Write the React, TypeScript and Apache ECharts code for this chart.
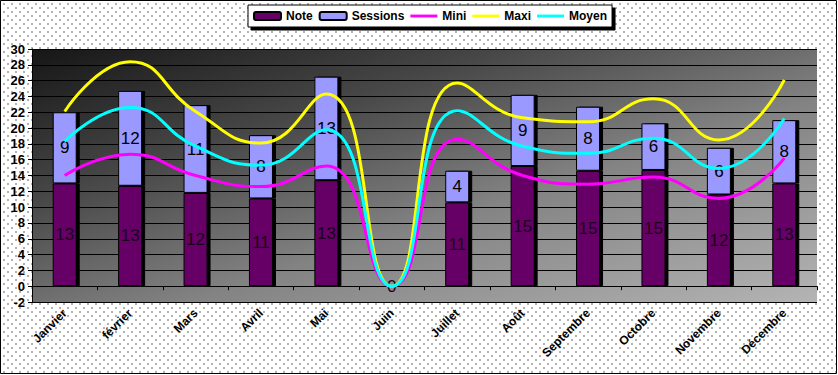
import React, { useEffect, useRef } from "react";
import * as echarts from "echarts";

const categories = ["Janvier", "février", "Mars", "Avril", "Mai", "Juin", "Juillet", "Août", "Septembre", "Octobre", "Novembre", "Décembre"];
const noteValues = [13.0, 12.7, 11.8, 11.1, 13.4, 0, 10.6, 15.2, 14.6, 14.7, 11.6, 13.0];
const sessionValues = [9.0, 12.0, 11.1, 8.0, 13.1, 0, 4.0, 9.0, 8.1, 5.9, 5.9, 8.0];
const miniValues = [14.0, 16.7, 14.0, 12.6, 15.2, 0, 18.6, 14.0, 12.9, 13.8, 11.1, 16.2];
const maxiValues = [22.1, 28.4, 22.1, 18.1, 24.3, 0, 25.7, 21.3, 20.8, 23.7, 18.5, 26.1];
const moyenValues = [18.3, 22.6, 17.7, 15.3, 19.8, 0, 22.2, 17.7, 16.8, 18.7, 14.9, 21.2];

const FONT = "'Liberation Sans', Arial, sans-serif";
const NARROW = "'Liberation Sans Narrow', 'Arial Narrow', 'Liberation Sans', Arial, sans-serif";
const LINE_ICON = "path://M0 0H30V3.2H0Z";

export default function App() {
  const ref = useRef<HTMLDivElement>(null);
  useEffect(() => {
    if (!ref.current) return;
    const chart = echarts.init(ref.current, undefined, { renderer: "svg" });
    const barLabel = (color: string, hideZero: boolean) => ({
      show: true,
      position: "inside",
      fontFamily: NARROW,
      fontSize: 17,
      color,
      formatter: (p: any) => (hideZero && p.value === 0 ? "" : String(Math.round(p.value))),
    });
    const barStyle = (color: string) => ({
      color,
      borderColor: "#000",
      borderWidth: 1,
      shadowColor: "#000",
      shadowOffsetX: 3,
      shadowOffsetY: 0,
      shadowBlur: 0,
    });
    chart.setOption({
      animation: false,
      backgroundColor: "transparent",
      textStyle: { fontFamily: FONT },
      grid: {
        left: 32,
        right: 21,
        top: 49,
        bottom: 73,
        show: true,
        borderWidth: 0,
        backgroundColor: new echarts.graphic.LinearGradient(0, 0, 1, 1, [
          { offset: 0, color: "#161616" },
          { offset: 0.3, color: "#474747" },
          { offset: 0.6, color: "#838383" },
          { offset: 1, color: "#b4b4b4" },
        ]),
      },
      legend: {
        left: 248,
        top: 5,
        padding: [5, 5, 5, 5],
        itemGap: 6,
        itemWidth: 27,
        itemHeight: 8,
        backgroundColor: "#ffffff",
        borderColor: "#000",
        borderWidth: 1,
        shadowColor: "#000",
        shadowOffsetX: 3,
        shadowOffsetY: 3,
        shadowBlur: 0,
        textStyle: { fontFamily: FONT, fontSize: 12, fontWeight: "bold", color: "#000" },
        data: [
          { name: "Note" },
          { name: "Sessions" },
          { name: "Mini", icon: LINE_ICON },
          { name: "Maxi", icon: LINE_ICON },
          { name: "Moyen", icon: LINE_ICON },
        ],
      },
      xAxis: {
        type: "category",
        data: categories,
        axisLine: { onZero: true, lineStyle: { color: "#000", width: 1 } },
        axisTick: { show: true, length: 4, lineStyle: { color: "#000" } },
        axisLabel: {
          rotate: 45,
          interval: 0,
          margin: 9,
          fontFamily: FONT,
          fontSize: 12,
          fontWeight: "bold",
          color: "#000",
        },
      },
      yAxis: {
        type: "value",
        min: -2,
        max: 30,
        interval: 2,
        axisLine: { show: true, lineStyle: { color: "#000" } },
        axisTick: { show: true, length: 4, lineStyle: { color: "#000" } },
        splitLine: { show: true, lineStyle: { color: "#000", width: 1 } },
        axisLabel: { margin: 7, fontFamily: FONT, fontSize: 13, fontWeight: "bold", color: "#000" },
      },
      series: [
        {
          name: "Note",
          type: "bar",
          stack: "total",
          barWidth: 24,
          data: noteValues,
          itemStyle: barStyle("#660066"),
          label: barLabel("#1a001a", false),
        },
        {
          name: "Sessions",
          type: "bar",
          stack: "total",
          barWidth: 24,
          data: sessionValues,
          itemStyle: barStyle("#9999ff"),
          label: barLabel("#000", true),
        },
        {
          name: "Mini",
          type: "line",
          smooth: true,
          symbol: "none",
          data: miniValues,
          z: 5,
          color: "#ff00ff",
          itemStyle: { color: "#ff00ff" },
          lineStyle: { color: "#ff00ff", width: 3 },
        },
        {
          name: "Maxi",
          type: "line",
          smooth: true,
          symbol: "none",
          data: maxiValues,
          z: 5,
          color: "#ffff00",
          itemStyle: { color: "#ffff00" },
          lineStyle: { color: "#ffff00", width: 3 },
        },
        {
          name: "Moyen",
          type: "line",
          smooth: true,
          symbol: "none",
          data: moyenValues,
          z: 5,
          color: "#00ffff",
          itemStyle: { color: "#00ffff" },
          lineStyle: { color: "#00ffff", width: 3 },
        },
      ],
      graphic: [
        {
          type: "rect",
          shape: { x: 0.5, y: 0.5, width: 836, height: 373 },
          style: { fill: "none", stroke: "#000", lineWidth: 1 },
          silent: true,
        },
      ],
    });
    return () => chart.dispose();
  }, []);
  return (
    <div
      ref={ref}
      style={{
        position: "fixed",
        left: 0,
        top: 0,
        width: 838,
        height: 375,
        backgroundColor: "#ffffff",
        backgroundImage:
          "radial-gradient(circle, #b0b0b0 0.7px, transparent 1px), radial-gradient(circle, #b0b0b0 0.7px, transparent 1px)",
        backgroundSize: "8px 8px, 8px 8px",
        backgroundPosition: "0 0, 4px 4px",
      }}
    />
  );
}
